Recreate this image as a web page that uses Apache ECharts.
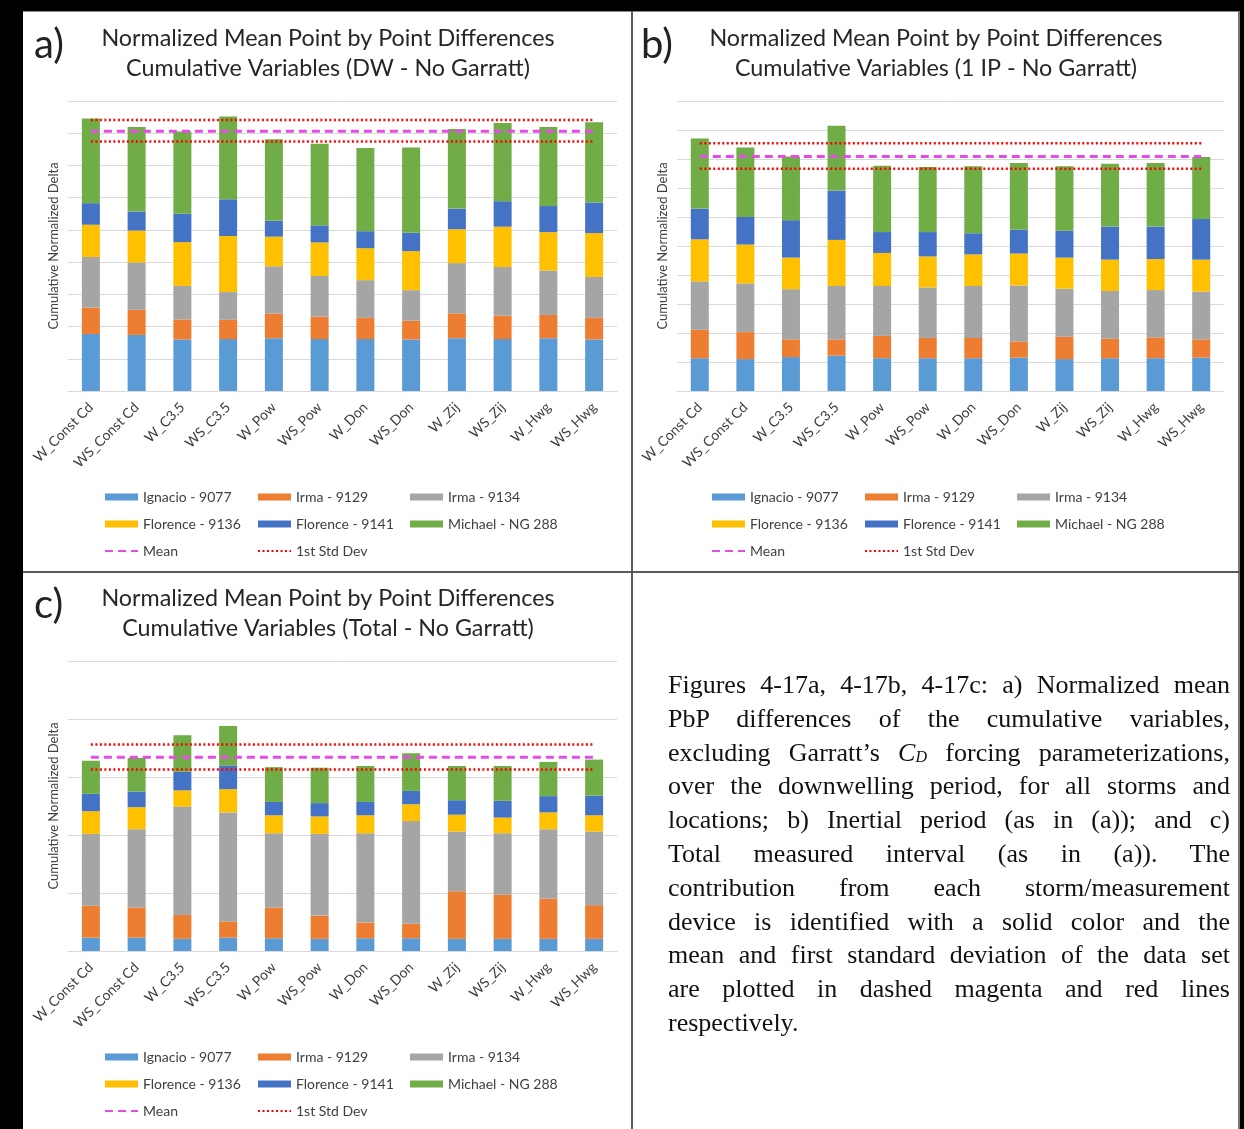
<!DOCTYPE html>
<html><head><meta charset="utf-8">
<script src="https://cdn.jsdelivr.net/npm/echarts@6/dist/echarts.min.js"></script>
<style>
html,body{margin:0;padding:0;background:#fff;}
#wrap{position:relative;width:1244px;height:1129px;overflow:hidden;background:#fff;}
#chart{position:absolute;left:0;top:0;width:1244px;height:1129px;}
.blk{position:absolute;background:#000;}
.sep{position:absolute;background:#5a5a5a;}
#caption{position:absolute;left:668px;top:668px;width:562px;font-family:"Liberation Serif","Times New Roman",serif;font-size:26px;line-height:33.8px;color:#111;}
#caption div{height:33.8px;text-align:justify;text-align-last:justify;white-space:nowrap;}
#caption div.last{text-align-last:left;}
#caption sub{font-size:0.62em;line-height:0;position:relative;top:0.1em;vertical-align:baseline;}
</style></head>
<body><div id="wrap">
<div id="chart"></div>
<div class="blk" style="left:0;top:0;width:23px;height:1129px"></div>
<div class="blk" style="left:0;top:0;width:1244px;height:11px"></div>
<div class="blk" style="left:1240px;top:0;width:4px;height:1129px"></div>
<div class="sep" style="left:23px;top:11px;width:1217px;height:1px;background:#888"></div>
<div class="sep" style="left:1238px;top:11px;width:2px;height:1118px;background:#777"></div>
<div class="sep" style="left:631px;top:11px;width:2px;height:1118px"></div>
<div class="sep" style="left:23px;top:571px;width:1217px;height:2px"></div>
<div id="caption">
<div>Figures 4-17a, 4-17b, 4-17c: a) Normalized mean</div>
<div>PbP differences of the cumulative variables,</div>
<div>excluding Garratt’s <i>C</i><sub><i>D</i></sub> forcing parameterizations,</div>
<div>over the downwelling period, for all storms and</div>
<div>locations; b) Inertial period (as in (a)); and c)</div>
<div>Total measured interval (as in (a)). The</div>
<div>contribution from each storm/measurement</div>
<div>device is identified with a solid color and the</div>
<div>mean and first standard deviation of the data set</div>
<div>are plotted in dashed magenta and red lines</div>
<div class="last">respectively.</div>
</div>
</div>
<script>
// ---------- data ----------
const categories = ['W_Const Cd','WS_Const Cd','W_C3.5','WS_C3.5','W_Pow','WS_Pow','W_Don','WS_Don','W_Zij','WS_Zij','W_Hwg','WS_Hwg'];
const seriesNames = ['Ignacio - 9077','Irma - 9129','Irma - 9134','Florence - 9136','Florence - 9141','Michael - NG 288'];
const seriesColors = ['#5B9BD5','#ED7D31','#A5A5A5','#FFC000','#4472C4','#70AD47'];

// a) DW - No Garratt
const dwIgnacio9077   = [1.77,1.74,1.60,1.61,1.64,1.61,1.61,1.60,1.64,1.61,1.64,1.60];
const dwIrma9129      = [0.82,0.78,0.62,0.60,0.76,0.70,0.66,0.58,0.77,0.73,0.72,0.67];
const dwIrma9134      = [1.57,1.47,1.04,0.86,1.47,1.26,1.17,0.95,1.56,1.51,1.38,1.27];
const dwFlorence9136  = [1.00,0.99,1.36,1.74,0.92,1.04,0.99,1.21,1.05,1.25,1.19,1.36];
const dwFlorence9141  = [0.67,0.59,0.88,1.14,0.49,0.53,0.53,0.57,0.64,0.79,0.81,0.95];
const dwMichaelNG288  = [2.63,2.62,2.55,2.57,2.53,2.53,2.58,2.65,2.47,2.43,2.45,2.49];
const dwMean = 8.06;
const dwStd = [8.41, 7.74];

// b) 1 IP - No Garratt
const ipIgnacio9077   = [1.13,1.10,1.17,1.22,1.13,1.13,1.13,1.15,1.10,1.13,1.13,1.15];
const ipIrma9129      = [0.98,0.93,0.61,0.56,0.77,0.70,0.70,0.56,0.77,0.67,0.72,0.63];
const ipIrma9134      = [1.67,1.68,1.73,1.84,1.72,1.74,1.79,1.93,1.66,1.65,1.63,1.65];
const ipFlorence9136  = [1.45,1.34,1.09,1.59,1.14,1.07,1.09,1.10,1.07,1.08,1.07,1.10];
const ipFlorence9141  = [1.06,0.95,1.29,1.70,0.72,0.84,0.73,0.82,0.93,1.14,1.12,1.40];
const ipMichaelNG288  = [2.42,2.40,2.20,2.24,2.29,2.24,2.31,2.30,2.22,2.17,2.19,2.14];
const ipMean = 8.09;
const ipStd = [8.54, 7.66];

// c) Total - No Garratt
const totIgnacio9077  = [0.23,0.23,0.21,0.23,0.22,0.21,0.22,0.22,0.21,0.21,0.21,0.21];
const totIrma9129     = [0.55,0.52,0.41,0.28,0.53,0.40,0.27,0.25,0.82,0.76,0.69,0.58];
const totIrma9134     = [1.24,1.35,1.87,1.88,1.28,1.41,1.54,1.77,1.03,1.06,1.20,1.27];
const totFlorence9136 = [0.39,0.38,0.28,0.40,0.31,0.30,0.31,0.29,0.29,0.27,0.29,0.28];
const totFlorence9141 = [0.30,0.27,0.32,0.41,0.23,0.23,0.23,0.23,0.25,0.29,0.28,0.34];
const totMichaelNG288 = [0.57,0.58,0.63,0.68,0.60,0.61,0.62,0.65,0.59,0.60,0.59,0.62];
const totMean = 3.34;
const totStd = [3.56, 3.13];

// ---------- build ----------
const FONT = 'Lato, "Open Sans", sans-serif';
const TXT = '#404040';
const panels = [
  {label:'a)', t1:'Normalized Mean Point by Point Differences', t2:'Cumulative Variables (DW - No Garratt)',
   ox:0, oy:0, grid:{left:68, top:101, width:549, height:290}, max:9,
   vals:[dwIgnacio9077,dwIrma9129,dwIrma9134,dwFlorence9136,dwFlorence9141,dwMichaelNG288], mean:dwMean, std:dwStd, cx:328},
  {label:'b)', t1:'Normalized Mean Point by Point Differences', t2:'Cumulative Variables (1 IP - No Garratt)',
   ox:607, oy:0, grid:{left:677, top:101, width:547, height:290}, max:10,
   vals:[ipIgnacio9077,ipIrma9129,ipIrma9134,ipFlorence9136,ipFlorence9141,ipMichaelNG288], mean:ipMean, std:ipStd, cx:936},
  {label:'c)', t1:'Normalized Mean Point by Point Differences', t2:'Cumulative Variables (Total - No Garratt)',
   ox:0, oy:560, grid:{left:68, top:661, width:549, height:290}, max:5,
   vals:[totIgnacio9077,totIrma9129,totIrma9134,totFlorence9136,totFlorence9141,totMichaelNG288], mean:totMean, std:totStd, cx:328}
];

const hiddenSym = {color:'rgba(0,0,0,0)', borderColor:'rgba(0,0,0,0)', borderWidth:0, opacity:0};
const grid=[], xAxis=[], yAxis=[], series=[], legend=[], graphic=[];
const first = categories[0], last = categories[categories.length-1];
panels.forEach((p,i)=>{
  grid.push(Object.assign({containLabel:false}, p.grid));
  xAxis.push({type:'category', gridIndex:i, data:categories,
    axisLine:{lineStyle:{color:'#d9d9d9'}}, axisTick:{show:false},
    axisLabel:{rotate:45, interval:0, fontSize:14, color:TXT, fontFamily:FONT, margin:14}});
  yAxis.push({type:'value', gridIndex:i, min:0, max:p.max, interval:1,
    axisLabel:{show:false}, axisLine:{show:false}, axisTick:{show:false},
    splitLine:{lineStyle:{color:'#d9d9d9', width:1}},
    name:'Cumulative Normalized Delta', nameLocation:'middle', nameGap:8,
    nameTextStyle:{fontSize:13, color:TXT, fontFamily:FONT}});
  p.vals.forEach((arr,k)=>{
    series.push({type:'bar', name:seriesNames[k], xAxisIndex:i, yAxisIndex:i, stack:'s'+i,
      data:arr, barWidth:18, itemStyle:{color:seriesColors[k]}});
  });
  series.push({type:'line', name:'Mean', xAxisIndex:i, yAxisIndex:i, symbol:'none', z:5,
    data:[[first,p.mean],[last,p.mean]], itemStyle:{color:'#E64BE6'},
    lineStyle:{color:'#E64BE6', width:3, type:[8,5]}});
  p.std.forEach(v=>{
    series.push({type:'line', name:'1st Std Dev', xAxisIndex:i, yAxisIndex:i, symbol:'none', z:5,
      data:[[first,v],[last,v]], itemStyle:{color:'#FF0000'},
      lineStyle:{color:'#FF0000', width:2.5, type:[2,2.5]}});
  });
  const cols = [
    [seriesNames[0], seriesNames[3], 'Mean'],
    [seriesNames[1], seriesNames[4], '1st Std Dev'],
    [seriesNames[2], seriesNames[5]]
  ];
  cols.forEach((c,j)=>{
    legend.push({orient:'vertical', left:104 + p.ox + j*153, top:489 + p.oy, padding:0,
      itemWidth:33, itemHeight:7, itemGap:11, selectedMode:false,
      textStyle:{fontSize:14, color:TXT, fontFamily:FONT, lineHeight:16},
      data:c.map(n => (n==='Mean'||n==='1st Std Dev') ? {name:n, itemStyle:hiddenSym} : {name:n, icon:'rect'})});
  });
  graphic.push({type:'text', x:34 + p.ox, y:45 + p.oy, style:{text:p.label, fontSize:40, fontFamily:FONT, fill:'#222', verticalAlign:'middle', align:'left'}});
  graphic.push({type:'text', x:p.cx, y:38 + p.oy, style:{text:p.t1, fontSize:23.3, fontFamily:FONT, fill:'#262626', align:'center', verticalAlign:'middle'}});
  graphic.push({type:'text', x:p.cx, y:68 + p.oy, style:{text:p.t2, fontSize:23.3, fontFamily:FONT, fill:'#262626', align:'center', verticalAlign:'middle'}});
});

const chart = echarts.init(document.getElementById('chart'), null, {renderer:'canvas'});
chart.setOption({animation:false, backgroundColor:'#fff', grid, xAxis, yAxis, series, legend, graphic});
</script>
</body></html>
